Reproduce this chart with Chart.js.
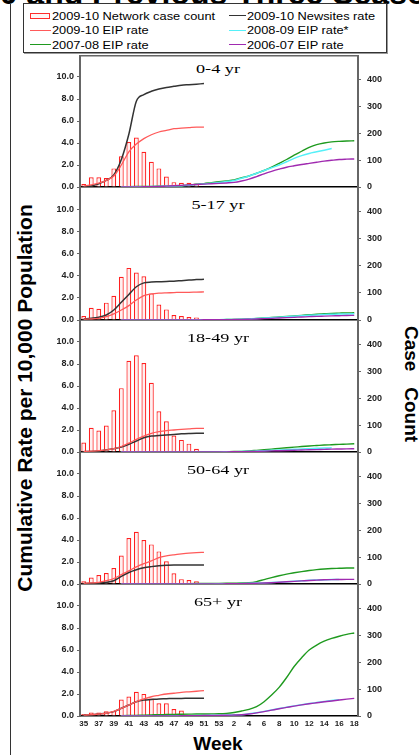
<!DOCTYPE html>
<html>
<head>
<meta charset="utf-8">
<title>Cumulative rates by age group</title>
<script src="https://cdn.jsdelivr.net/npm/chart.js@4.4.1/dist/chart.umd.min.js"></script>
<style>
    html, body { margin: 0; padding: 0; background: #fff; }
    body { position: relative; width: 419px; height: 755px; overflow: hidden; font-family: "Liberation Sans", Arial, sans-serif; color: #000; }
    .abs { position: absolute; white-space: nowrap; }
    #headline { left: -100px; top: -23px; font: bold 32px/32px "Liberation Sans", Arial, sans-serif; }
    #frame { left: 10px; top: 4px; width: 0; height: 760px; border-left: 1px solid #333; }
    #legend { left: 23px; top: 3px; width: 362px; height: 48px; border: 1px solid #333; box-shadow: 1px 1px 0 #999; }
    #legend .label { position: absolute; font-size: 10.5px; line-height: 12px; transform: scaleX(1.22); transform-origin: left center; white-space: nowrap; }
    #legend .line { position: absolute; height: 0; border-top: 1.5px solid; }
    #legend .box { position: absolute; width: 18px; height: 4px; border: 1px solid #ff2a2a; background: #fff4f4; }
    .panel-title { position: absolute; left: 118px; width: 200px; text-align: center; font: 13px/16px "Liberation Serif", "Times New Roman", serif; transform: scaleX(1.4); }
    #yTitle { left: 25px; top: 398px; font: bold 21px "Liberation Sans", Arial, sans-serif; transform: translate(-50%, -50%) rotate(-90deg); }
    #y2Title { left: 411px; top: 384px; font: bold 19px "Liberation Sans", Arial, sans-serif; white-space: pre; transform: translate(-50%, -50%) rotate(90deg); }
    #xTitle { left: 218px; top: 744px; font: bold 19px "Liberation Sans", Arial, sans-serif; transform: translate(-50%, -50%); }
    canvas { position: absolute; left: 0; }
</style>
</head>
<body>
<div id="headline" class="abs">2009-10 and Previous Three Seasons</div>
<div id="frame" class="abs"></div>
<div id="legend" class="abs">
    <span class="box" style="left:6px; top:9px;"></span>
    <span class="label" style="left:28px; top:6px;">2009-10 Network case count</span>
    <span class="line" style="left:205px; top:11px; width:17px; border-color:#333;"></span>
    <span class="label" style="left:223px; top:6px;">2009-10 Newsites rate</span>
    <span class="line" style="left:6px; top:26px; width:21px; border-color:#ff5a5a;"></span>
    <span class="label" style="left:28px; top:20px;">2009-10 EIP rate</span>
    <span class="line" style="left:205px; top:26px; width:17px; border-color:#55f0f8;"></span>
    <span class="label" style="left:223px; top:20px;">2008-09 EIP rate*</span>
    <span class="line" style="left:6px; top:40px; width:21px; border-color:#1f9a1f;"></span>
    <span class="label" style="left:28px; top:35px;">2007-08 EIP rate</span>
    <span class="line" style="left:205px; top:40px; width:17px; border-color:#a02ab0;"></span>
    <span class="label" style="left:223px; top:35px;">2006-07 EIP rate</span>
</div>
<div id="yTitle" class="abs">Cumulative Rate per 10,000 Population</div>
<div id="y2Title" class="abs">Case   Count</div>
<div id="xTitle" class="abs">Week</div>

<script>
/**
 * Cumulative influenza rates by age group, 2009-10 vs previous seasons
 */

// Shared x axis: weeks 35-53 of the first year, then weeks 1-18
const weeks = ['35', '36', '37', '38', '39', '40', '41', '42', '43', '44', '45', '46', '47', '48', '49', '50', '51', '52', '53',
               '1', '2', '3', '4', '5', '6', '7', '8', '9', '10', '11', '12', '13', '14', '15', '16', '17', '18'];

const rateTicks = [0, 2, 4, 6, 8, 10];
const countTicks = [0, 100, 200, 300, 400];
const ageGroups = ['0-4 yr', '5-17 yr', '18-49 yr', '50-64 yr', '65+ yr'];

// 2009-10 network case counts, from week 35
const cases0to4 = [11, 36, 36, 33, 69, 114, 167, 184, 131, 94, 69, 39, 18, 16, 16, 13];
const cases5to17 = [15, 45, 41, 64, 89, 159, 192, 175, 161, 98, 57, 39, 18, 15, 11, 9];
const cases18to49 = [35, 90, 80, 98, 155, 237, 339, 359, 330, 257, 151, 114, 61, 45, 31, 12];
const cases50to64 = [10, 24, 33, 41, 59, 106, 171, 194, 163, 147, 121, 84, 40, 18, 15, 10];
const cases65plus = [7, 13, 13, 18, 18, 61, 72, 90, 82, 65, 47, 47, 26, 20];

// 2009-10 Newsites cumulative rate, weeks 35-51
const newsites0to4 = [0.03, 0.1, 0.3, 0.6, 1.1, 2.5, 4.8, 7.8, 8.4, 8.7, 8.9, 9.05, 9.15, 9.25, 9.3, 9.35, 9.4];
const newsites5to17 = [0.1, 0.15, 0.25, 0.45, 0.9, 1.6, 2.3, 3.0, 3.35, 3.42, 3.45, 3.48, 3.5, 3.55, 3.6, 3.65, 3.67];
const newsites18to49 = [0.03, 0.05, 0.1, 0.2, 0.3, 0.45, 0.7, 1.0, 1.3, 1.45, 1.5, 1.55, 1.6, 1.65, 1.68, 1.7, 1.7];
const newsites50to64 = [0.05, 0.07, 0.1, 0.15, 0.3, 0.7, 1.05, 1.3, 1.48, 1.58, 1.65, 1.7, 1.73, 1.73, 1.73, 1.73, 1.73];
const newsites65plus = [0.08, 0.12, 0.18, 0.25, 0.4, 0.7, 1.0, 1.3, 1.45, 1.5, 1.55, 1.57, 1.6, 1.6, 1.62, 1.62, 1.62];

// 2009-10 EIP cumulative rate, weeks 35-51
const eip0910_0to4 = [0.1, 0.2, 0.35, 0.6, 1.0, 2.0, 3.2, 3.9, 4.4, 4.75, 5.0, 5.15, 5.3, 5.35, 5.4, 5.45, 5.45];
const eip0910_5to17 = [0.08, 0.1, 0.14, 0.3, 0.55, 0.9, 1.3, 1.8, 2.2, 2.35, 2.42, 2.45, 2.47, 2.5, 2.5, 2.52, 2.53];
const eip0910_18to49 = [0.05, 0.08, 0.12, 0.2, 0.3, 0.5, 0.8, 1.15, 1.45, 1.7, 1.85, 1.95, 2.0, 2.05, 2.1, 2.15, 2.15];
const eip0910_50to64 = [0.06, 0.1, 0.15, 0.3, 0.5, 0.85, 1.2, 1.55, 1.85, 2.1, 2.4, 2.55, 2.65, 2.73, 2.8, 2.85, 2.88];
const eip0910_65plus = [0.08, 0.12, 0.18, 0.25, 0.42, 0.7, 1.0, 1.3, 1.55, 1.75, 1.88, 2.0, 2.07, 2.15, 2.2, 2.25, 2.3];

// 2008-09 EIP cumulative rate, from week 40
const eip0809_0to4 = [0, 0.01, 0.02, 0.03, 0.04, 0.05, 0.07, 0.09, 0.12, 0.16, 0.22, 0.28, 0.35, 0.42, 0.5, 0.6, 0.8, 1.0, 1.25, 1.5, 1.75, 2.0, 2.3, 2.6, 2.85, 3.05, 3.2, 3.35, 3.5];
const eip0809_5to17 = [0, 0, 0, 0, 0, 0, 0, 0, 0.01, 0.01, 0.02, 0.02, 0.03, 0.03, 0.04, 0.05, 0.07, 0.1, 0.13, 0.17, 0.21, 0.25, 0.3, 0.34, 0.38, 0.42, 0.46, 0.5, 0.52, 0.54, 0.55, 0.56];
const eip0809_18to49 = [0, 0, 0, 0, 0, 0, 0, 0, 0, 0, 0, 0, 0.01, 0.01, 0.02, 0.03, 0.04, 0.06, 0.09, 0.12, 0.15, 0.18, 0.21, 0.24, 0.27, 0.3, 0.33, 0.36, 0.38];
const eip0809_50to64 = [0, 0, 0, 0, 0, 0, 0, 0, 0, 0, 0, 0.01, 0.01, 0.02, 0.02, 0.03, 0.04, 0.06, 0.08, 0.1, 0.13, 0.17, 0.21, 0.25, 0.29, 0.33, 0.36, 0.38, 0.4, 0.41];
const eip0809_65plus = [0, 0, 0, 0, 0, 0.01, 0.01, 0.02, 0.02, 0.03, 0.04, 0.05, 0.06, 0.07, 0.08, 0.1, 0.12, 0.2, 0.3, 0.42, 0.55, 0.68, 0.8, 0.92, 1.03, 1.13, 1.22, 1.31, 1.4, 1.47];

// 2007-08 EIP cumulative rate, from week 40
const eip0708_0to4 = [0.02, 0.03, 0.04, 0.05, 0.06, 0.07, 0.08, 0.09, 0.12, 0.18, 0.25, 0.31, 0.4, 0.48, 0.56, 0.65, 0.85, 1.0, 1.25, 1.5, 1.8, 2.15, 2.5, 2.9, 3.25, 3.6, 3.85, 4.0, 4.1, 4.15, 4.18, 4.2];
const eip0708_5to17 = [0, 0, 0, 0, 0, 0, 0, 0, 0.01, 0.01, 0.02, 0.02, 0.03, 0.03, 0.04, 0.05, 0.07, 0.1, 0.14, 0.18, 0.22, 0.27, 0.32, 0.37, 0.42, 0.47, 0.52, 0.56, 0.6, 0.62, 0.64, 0.65];
const eip0708_18to49 = [0, 0, 0, 0, 0, 0, 0, 0, 0, 0, 0, 0.01, 0.01, 0.02, 0.03, 0.04, 0.06, 0.1, 0.15, 0.2, 0.26, 0.33, 0.39, 0.44, 0.5, 0.55, 0.59, 0.63, 0.66, 0.69, 0.72, 0.75];
const eip0708_50to64 = [0, 0, 0, 0, 0, 0, 0, 0.01, 0.02, 0.03, 0.04, 0.05, 0.05, 0.06, 0.07, 0.08, 0.09, 0.12, 0.22, 0.4, 0.58, 0.75, 0.9, 1.02, 1.13, 1.23, 1.31, 1.37, 1.41, 1.43, 1.45, 1.46];
const eip0708_65plus = [0.02, 0.04, 0.06, 0.08, 0.1, 0.12, 0.13, 0.15, 0.16, 0.17, 0.18, 0.18, 0.19, 0.2, 0.24, 0.32, 0.45, 0.6, 0.85, 1.3, 1.9, 2.6, 3.5, 4.5, 5.3, 6.0, 6.45, 6.8, 7.05, 7.25, 7.42, 7.55];

// 2006-07 EIP cumulative rate, from week 40
const eip0607_0to4 = [0, 0, 0.01, 0.02, 0.03, 0.05, 0.08, 0.11, 0.15, 0.19, 0.23, 0.26, 0.3, 0.33, 0.37, 0.42, 0.55, 0.72, 0.95, 1.2, 1.42, 1.62, 1.8, 1.93, 2.05, 2.15, 2.25, 2.35, 2.43, 2.5, 2.53, 2.55];
const eip0607_5to17 = [0, 0, 0, 0, 0, 0, 0, 0, 0, 0.01, 0.01, 0.02, 0.02, 0.03, 0.03, 0.04, 0.05, 0.07, 0.09, 0.12, 0.15, 0.18, 0.21, 0.24, 0.27, 0.3, 0.33, 0.35, 0.37, 0.39, 0.41, 0.42];
const eip0607_18to49 = [0, 0, 0, 0, 0, 0, 0, 0, 0, 0, 0, 0, 0, 0.01, 0.01, 0.02, 0.03, 0.04, 0.06, 0.08, 0.1, 0.12, 0.14, 0.16, 0.18, 0.2, 0.22, 0.24, 0.26, 0.27, 0.28, 0.3];
const eip0607_50to64 = [0, 0, 0, 0, 0, 0, 0, 0, 0, 0, 0, 0, 0.01, 0.01, 0.02, 0.02, 0.03, 0.05, 0.07, 0.09, 0.12, 0.16, 0.2, 0.24, 0.28, 0.32, 0.35, 0.38, 0.4, 0.41, 0.42, 0.42];
const eip0607_65plus = [0, 0, 0, 0, 0, 0, 0.01, 0.01, 0.02, 0.02, 0.03, 0.04, 0.05, 0.06, 0.07, 0.09, 0.11, 0.18, 0.28, 0.4, 0.53, 0.66, 0.78, 0.9, 1.01, 1.11, 1.2, 1.29, 1.37, 1.45, 1.53, 1.6];

// Layout: top of each plot area and where its zero line sits
const PANEL_TOPS = [55, 187, 320, 452, 584];
const PANEL_BOTTOMS = [187, 320, 452, 584, 716];
const PLOT_LEFT = 80;
const PLOT_RIGHT = 358;
const PAGE_WIDTH = 419;

const ChartPage = {
    charts: [],

    /**
     * Build all five age-group panels
     */
    init() {
        const panels = [
            { cases: cases0to4, newsites: newsites0to4, eip0910: eip0910_0to4, eip0809: eip0809_0to4, eip0708: eip0708_0to4, eip0607: eip0607_0to4 },
            { cases: cases5to17, newsites: newsites5to17, eip0910: eip0910_5to17, eip0809: eip0809_5to17, eip0708: eip0708_5to17, eip0607: eip0607_5to17 },
            { cases: cases18to49, newsites: newsites18to49, eip0910: eip0910_18to49, eip0809: eip0809_18to49, eip0708: eip0708_18to49, eip0607: eip0607_18to49 },
            { cases: cases50to64, newsites: newsites50to64, eip0910: eip0910_50to64, eip0809: eip0809_50to64, eip0708: eip0708_50to64, eip0607: eip0607_50to64 },
            { cases: cases65plus, newsites: newsites65plus, eip0910: eip0910_65plus, eip0809: eip0809_65plus, eip0708: eip0708_65plus, eip0607: eip0607_65plus }
        ];

        panels.forEach((panel, i) => {
            const isLast = i === panels.length - 1;
            this.addTitle(ageGroups[i], PANEL_TOPS[i] + (i === 0 ? 6 : 10));
            this.charts.push(this.buildPanel(panel, i, isLast));
        });
    },

    /**
     * Age group label, centred over the plot
     */
    addTitle(text, top) {
        const el = document.createElement('div');
        el.className = 'panel-title';
        el.style.top = top + 'px';
        el.textContent = text;
        document.body.appendChild(el);
    },

    /**
     * Pad a previous-season series so it starts at week 40
     */
    fromWeek40(values) {
        return Array(weeks.indexOf('40')).fill(null).concat(values);
    },

    /**
     * Line dataset helper
     */
    line(label, data, color, width) {
        return {
            type: 'line',
            label: label,
            data: data,
            yAxisID: 'yRate',
            borderColor: color,
            borderWidth: width,
            pointRadius: 0,
            fill: false,
            cubicInterpolationMode: 'monotone',
            order: 1
        };
    },

    /**
     * Create one panel chart
     * @param {Object} panel - series for one age group
     * @param {number} index - panel position
     * @param {boolean} showWeeks - draw week labels under this panel
     */
    buildPanel(panel, index, showWeeks) {
        const plotHeight = PANEL_BOTTOMS[index] - PANEL_TOPS[index];
        const below = showWeeks ? 20 : 8;

        const canvas = document.createElement('canvas');
        canvas.width = PAGE_WIDTH;
        canvas.height = plotHeight + below;
        canvas.style.top = PANEL_TOPS[index] + 'px';
        document.body.appendChild(canvas);

        const tickFont = { family: '"Liberation Sans", Arial, sans-serif', size: 9, weight: 'bold' };

        return new Chart(canvas.getContext('2d'), {
            type: 'bar',
            data: {
                labels: weeks,
                datasets: [
                    this.line('2009-10 EIP rate', panel.eip0910, '#ff5a5a', 1.3),
                    this.line('2009-10 Newsites rate', panel.newsites, '#333333', 1.5),
                    this.line('2006-07 EIP rate', this.fromWeek40(panel.eip0607), '#a02ab0', 1.4),
                    this.line('2008-09 EIP rate*', this.fromWeek40(panel.eip0809), '#55f0f8', 1.5),
                    this.line('2007-08 EIP rate', this.fromWeek40(panel.eip0708), '#1f9a1f', 1.4),
                    {
                        type: 'bar',
                        label: '2009-10 Network case count',
                        data: panel.cases,
                        yAxisID: 'yCount',
                        backgroundColor: '#fff0f0',
                        borderColor: '#ff2020',
                        borderWidth: 1.2,
                        barPercentage: 0.64,
                        categoryPercentage: 1,
                        order: 2
                    }
                ]
            },
            options: {
                responsive: false,
                animation: false,
                devicePixelRatio: 1,
                layout: { padding: { left: 0, right: 0, top: 0, bottom: showWeeks ? 0 : below } },
                plugins: {
                    legend: { display: false },
                    tooltip: { enabled: false },
                    topEdge: { show: index === 0 }
                },
                scales: {
                    x: {
                        offset: true,
                        grid: { display: false, drawTicks: false },
                        border: { display: true, color: '#000', width: 1.5 },
                        ticks: {
                            display: showWeeks,
                            autoSkip: false,
                            maxRotation: 0,
                            padding: 3,
                            color: '#222',
                            font: { family: tickFont.family, size: 8, weight: 'bold' },
                            callback: (value, i) => (i % 2 === 0 ? weeks[i] : '')
                        },
                        afterFit: (scale) => {
                            scale.height = showWeeks ? below : 0;
                            scale.paddingLeft = 0;
                            scale.paddingRight = 0;
                        }
                    },
                    yRate: {
                        position: 'left',
                        min: 0,
                        max: 12,
                        grid: { display: true, drawOnChartArea: false, tickLength: 3, color: '#666' },
                        border: { color: '#666', width: 2 },
                        ticks: {
                            padding: 3,
                            color: '#222',
                            font: tickFont,
                            callback: (value) => value.toFixed(1)
                        },
                        afterBuildTicks: (scale) => {
                            scale.ticks = rateTicks.map(v => ({ value: v }));
                        },
                        afterFit: (scale) => {
                            scale.width = PLOT_LEFT;
                            scale.paddingTop = 0;
                            scale.paddingBottom = 0;
                        }
                    },
                    yCount: {
                        position: 'right',
                        min: 0,
                        max: 490,
                        grid: { display: true, drawOnChartArea: false, tickLength: 3, color: '#666' },
                        border: { color: '#666', width: 2 },
                        ticks: {
                            padding: 6,
                            color: '#222',
                            font: tickFont
                        },
                        afterBuildTicks: (scale) => {
                            scale.ticks = countTicks.map(v => ({ value: v }));
                        },
                        afterFit: (scale) => {
                            scale.width = PAGE_WIDTH - PLOT_RIGHT;
                            scale.paddingTop = 0;
                            scale.paddingBottom = 0;
                        }
                    }
                }
            },
            plugins: [{
                id: 'topEdge',
                afterDraw(chart, args, opts) {
                    if (!opts.show) return;
                    const { ctx, chartArea } = chart;
                    ctx.save();
                    ctx.strokeStyle = '#666';
                    ctx.lineWidth = 1.5;
                    ctx.beginPath();
                    ctx.moveTo(chartArea.left, chartArea.top + 0.75);
                    ctx.lineTo(chartArea.right, chartArea.top + 0.75);
                    ctx.stroke();
                    ctx.restore();
                }
            }]
        });
    }
};

ChartPage.init();
window.ChartPage = ChartPage;
</script>
</body>
</html>
